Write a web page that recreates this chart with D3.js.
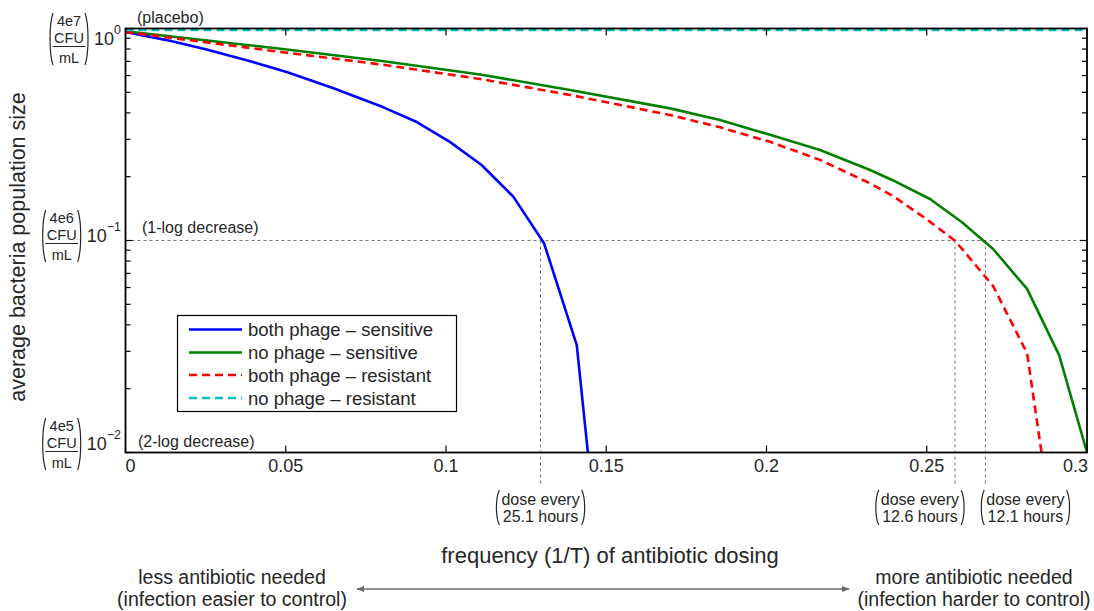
<!DOCTYPE html>
<html>
<head>
<meta charset="utf-8">
<script src="https://cdn.jsdelivr.net/npm/d3@7"></script>
<style>
  html, body { margin: 0; padding: 0; background: #fff; }
  svg { display: block; font-family: "Liberation Sans", Arial, Helvetica, sans-serif; }
</style>
</head>
<body>
<svg id="chart" width="1094" height="611"></svg>
<script>
// Dosing frequency (1/T) and average population size (relative to placebo)
const freqBothSens = [0, 0.0125, 0.025, 0.0375, 0.0503, 0.0647, 0.0803, 0.0909, 0.1012, 0.1111, 0.121, 0.1306, 0.1408, 0.151];
const popBothSens  = [0.963, 0.884, 0.799, 0.711, 0.623, 0.524, 0.426, 0.362, 0.292, 0.227, 0.161, 0.097, 0.0321, 0.00104];

const freqNoSens = [0, 0.0503, 0.0800, 0.1106, 0.1387, 0.1699, 0.1855, 0.2011, 0.2167, 0.2323, 0.2392, 0.251, 0.261, 0.2707, 0.2813, 0.2913, 0.3];
const popNoSens  = [0.970, 0.796, 0.703, 0.607, 0.513, 0.420, 0.370, 0.315, 0.267, 0.215, 0.193, 0.157, 0.122, 0.0912, 0.0591, 0.0288, 0.01];

const freqBothRes = [0, 0.0503, 0.0800, 0.1106, 0.1387, 0.1699, 0.1855, 0.2011, 0.2167, 0.2323, 0.2395, 0.2501, 0.2588, 0.2613, 0.2707, 0.2813, 0.291];
const popBothRes  = [0.963, 0.769, 0.676, 0.578, 0.486, 0.391, 0.342, 0.292, 0.240, 0.186, 0.162, 0.1256, 0.0998, 0.0902, 0.061, 0.0294, 0.0029];

const freqNoRes = [0, 0.3];
const popNoRes  = [0.985, 0.985];

const seriesNames = ["both phage \u2013 sensitive", "no phage \u2013 sensitive", "both phage \u2013 resistant", "no phage \u2013 resistant"];

// Axis labelling
const xTickValues = [0, 0.05, 0.1, 0.15, 0.2, 0.25, 0.3];
const xTickLabels = ["0", "0.05", "0.1", "0.15", "0.2", "0.25", "0.3"];
const yDecades = [1, 0.1, 0.01];
const yExponents = ["0", "\u22121", "\u22122"];
const yCfu = ["4e7", "4e6", "4e5"];
const yNotes = ["(placebo)", "(1-log decrease)", "(2-log decrease)"];

// Dosing intervals that reach a 1-log decrease
const doseFreq = [0.1295, 0.2588, 0.2683];
const doseHours = ["25.1", "12.6", "12.1"];

const svg = d3.select("#chart");
const W = 1094, H = 611;
const plot = { left: 125.5, right: 1087, top: 28.5, bottom: 452.5 };

const x = d3.scaleLinear().domain([0, 0.3]).range([plot.left, plot.right]);
const y = d3.scaleLog().domain([0.01, 1]).range([plot.bottom, plot.top]);

svg.append("rect").attr("width", W).attr("height", H).attr("fill", "#fff");

const defs = svg.append("defs");
defs.append("clipPath").attr("id", "plotClip")
  .append("rect")
  .attr("x", plot.left).attr("y", plot.top - 3)
  .attr("width", plot.right - plot.left).attr("height", plot.bottom - plot.top + 3);

const textColor = "#262626";
const refGray = "#7a7a7a";

// Reference lines for 1-log decrease
svg.append("line")
  .attr("x1", x(0)).attr("x2", x(0.3))
  .attr("y1", y(0.1)).attr("y2", y(0.1))
  .attr("stroke", refGray).attr("stroke-width", 1.1).attr("stroke-dasharray", "3,3");
svg.selectAll("line.dose").data(doseFreq).join("line")
  .attr("class", "dose")
  .attr("x1", d => x(d)).attr("x2", d => x(d))
  .attr("y1", y(0.1)).attr("y2", plot.bottom + 33)
  .attr("stroke", refGray).attr("stroke-width", 1.1).attr("stroke-dasharray", "3,3");

// Curves
const series = [
  { f: freqBothSens, p: popBothSens, color: "#0000ff", dash: null },
  { f: freqNoSens, p: popNoSens, color: "#008000", dash: null },
  { f: freqBothRes, p: popBothRes, color: "#ff0000", dash: "8,5" },
  { f: freqNoRes, p: popNoRes, color: "#00bfbf", dash: "8,5" }
];
const line = d3.line().x(d => x(d[0])).y(d => y(d[1]));
const curves = svg.append("g").attr("clip-path", "url(#plotClip)");
series.forEach(s => {
  curves.append("path")
    .datum(s.f.map((f, i) => [f, s.p[i]]))
    .attr("d", line)
    .attr("fill", "none")
    .attr("stroke", s.color)
    .attr("stroke-width", 2.6)
    .attr("stroke-linejoin", "round")
    .attr("stroke-dasharray", s.dash);
});

// Frame and inward ticks
const axes = svg.append("g").attr("stroke", "#000");
axes.append("rect")
  .attr("x", plot.left).attr("y", plot.top)
  .attr("width", plot.right - plot.left).attr("height", plot.bottom - plot.top)
  .attr("fill", "none").attr("stroke-width", 1.8);
xTickValues.forEach(v => {
  axes.append("line").attr("x1", x(v)).attr("x2", x(v))
    .attr("y1", plot.bottom).attr("y2", plot.bottom - 7).attr("stroke-width", 1.2);
  axes.append("line").attr("x1", x(v)).attr("x2", x(v))
    .attr("y1", plot.top).attr("y2", plot.top + 7).attr("stroke-width", 1.2);
});
y.ticks().forEach(v => {
  const major = Math.abs(Math.log10(v) - Math.round(Math.log10(v))) < 1e-9;
  const len = major ? 7 : 5;
  axes.append("line").attr("x1", plot.left).attr("x2", plot.left + len)
    .attr("y1", y(v)).attr("y2", y(v)).attr("stroke-width", 1.2);
  axes.append("line").attr("x1", plot.right).attr("x2", plot.right - len)
    .attr("y1", y(v)).attr("y2", y(v)).attr("stroke-width", 1.2);
});

// X tick labels
svg.selectAll("text.xtick").data(xTickValues).join("text")
  .attr("class", "xtick")
  .attr("x", (d, i) => i === xTickValues.length - 1 ? x(d) + 1 : x(d))
  .attr("y", 472)
  .attr("text-anchor", (d, i) => i === 0 ? "start" : (i === xTickValues.length - 1 ? "end" : "middle"))
  .attr("font-size", 18).attr("fill", textColor)
  .text((d, i) => xTickLabels[i]);

// Tall parenthesis helper
function paren(g, xEdge, top, bottom, side) {
  const h = bottom - top;
  const bulge = side === "left" ? -4 : 4;
  const x1 = xEdge + bulge;
  g.append("path")
    .attr("d", `M${xEdge},${top} C${x1},${top + h * 0.22} ${x1},${bottom - h * 0.22} ${xEdge},${bottom}`)
    .attr("fill", "none").attr("stroke", textColor).attr("stroke-width", 1.2);
}

// Y tick labels: (CFU/mL) matrix + power of ten
const blockTops = [13, 210, 418];
yDecades.forEach((v, i) => {
  const g = svg.append("g");
  const top = blockTops[i];
  const lbl = g.append("text")
    .attr("x", 121).attr("y", top + 32)
    .attr("text-anchor", "end")
    .attr("font-size", 18).attr("fill", textColor);
  lbl.append("tspan").text("10");
  lbl.append("tspan").attr("dy", -11).attr("font-size", 12.5).text(yExponents[i]);
  const bb = lbl.node().getBBox();
  const pr = bb.x - 5;
  const pl = pr - 40;
  const cx = (pl + pr) / 2;
  paren(g, pl + 4, top, top + 52, "left");
  paren(g, pr - 4, top, top + 52, "right");
  g.append("text").attr("x", cx).attr("y", top + 12.5).attr("text-anchor", "middle")
    .attr("font-size", 14.5).attr("fill", textColor).text(yCfu[i]);
  g.append("text").attr("x", cx).attr("y", top + 30).attr("text-anchor", "middle")
    .attr("font-size", 14.5).attr("fill", textColor).text("CFU");
  g.append("line").attr("x1", cx - 16.5).attr("x2", cx + 16.5)
    .attr("y1", top + 33.5).attr("y2", top + 33.5)
    .attr("stroke", textColor).attr("stroke-width", 1.1);
  g.append("text").attr("x", cx).attr("y", top + 49.5).attr("text-anchor", "middle")
    .attr("font-size", 14.5).attr("fill", textColor).text("mL");
});

// Level notes inside / above the plot
const noteY = [23, 233, 447];
const noteX = [137, 142, 138];
yNotes.forEach((t, i) => {
  svg.append("text").attr("x", noteX[i]).attr("y", noteY[i])
    .attr("font-size", 16).attr("fill", textColor).text(t);
});

// Dosing interval annotations below the axis
const doseShift = [0, -35, 40];
doseFreq.forEach((f, i) => {
  const g = svg.append("g");
  const cx = x(f) + doseShift[i];
  const t1 = g.append("text").attr("x", cx).attr("y", 505).attr("text-anchor", "middle")
    .attr("font-size", 16).attr("fill", textColor).text("dose every");
  g.append("text").attr("x", cx).attr("y", 522).attr("text-anchor", "middle")
    .attr("font-size", 16).attr("fill", textColor).text(doseHours[i] + " hours");
  const w = t1.node().getComputedTextLength();
  paren(g, cx - w / 2 - 2, 490, 525, "left");
  paren(g, cx + w / 2 + 2, 490, 525, "right");
});

// Axis titles
svg.append("text")
  .attr("x", 610).attr("y", 563).attr("text-anchor", "middle")
  .attr("font-size", 22).attr("fill", textColor)
  .text("frequency (1/T) of antibiotic dosing");
svg.append("text")
  .attr("transform", "translate(25,247) rotate(-90)")
  .attr("text-anchor", "middle")
  .attr("font-size", 21.5).attr("fill", textColor)
  .text("average bacteria population size");

// Interpretation arrow
const arrowGray = "#6a6a6a";
defs.append("marker").attr("id", "arrowEnd")
  .attr("viewBox", "0 0 10 10").attr("refX", 9).attr("refY", 5)
  .attr("markerWidth", 8).attr("markerHeight", 8).attr("markerUnits", "userSpaceOnUse")
  .attr("orient", "auto-start-reverse")
  .append("path").attr("d", "M0,1 L10,5 L0,9 Z").attr("fill", arrowGray);
svg.append("line")
  .attr("x1", 357).attr("x2", 849).attr("y1", 589).attr("y2", 589)
  .attr("stroke", arrowGray).attr("stroke-width", 1.5)
  .attr("marker-start", "url(#arrowEnd)").attr("marker-end", "url(#arrowEnd)");
[["less antibiotic needed", "(infection easier to control)", 232],
 ["more antibiotic needed", "(infection harder to control)", 974]].forEach(([a, b, cx]) => {
  svg.append("text").attr("x", cx).attr("y", 584).attr("text-anchor", "middle")
    .attr("font-size", 19.5).attr("fill", textColor).text(a);
  svg.append("text").attr("x", cx).attr("y", 606).attr("text-anchor", "middle")
    .attr("font-size", 19.5).attr("fill", textColor).text(b);
});

// Legend
const lg = svg.append("g");
lg.append("rect").attr("x", 177.5).attr("y", 315.5).attr("width", 279).attr("height", 96)
  .attr("fill", "#fff").attr("stroke", "#000").attr("stroke-width", 1.2);
const legendRows = [329.5, 352.5, 375, 398];
series.forEach((s, i) => {
  lg.append("line").attr("x1", 189).attr("x2", 242)
    .attr("y1", legendRows[i]).attr("y2", legendRows[i])
    .attr("stroke", s.color).attr("stroke-width", 2.6).attr("stroke-dasharray", s.dash);
  lg.append("text").attr("x", 248).attr("y", legendRows[i] + 6.5)
    .attr("font-size", 18.5).attr("fill", textColor).text(seriesNames[i]);
});
</script>
</body>
</html>
